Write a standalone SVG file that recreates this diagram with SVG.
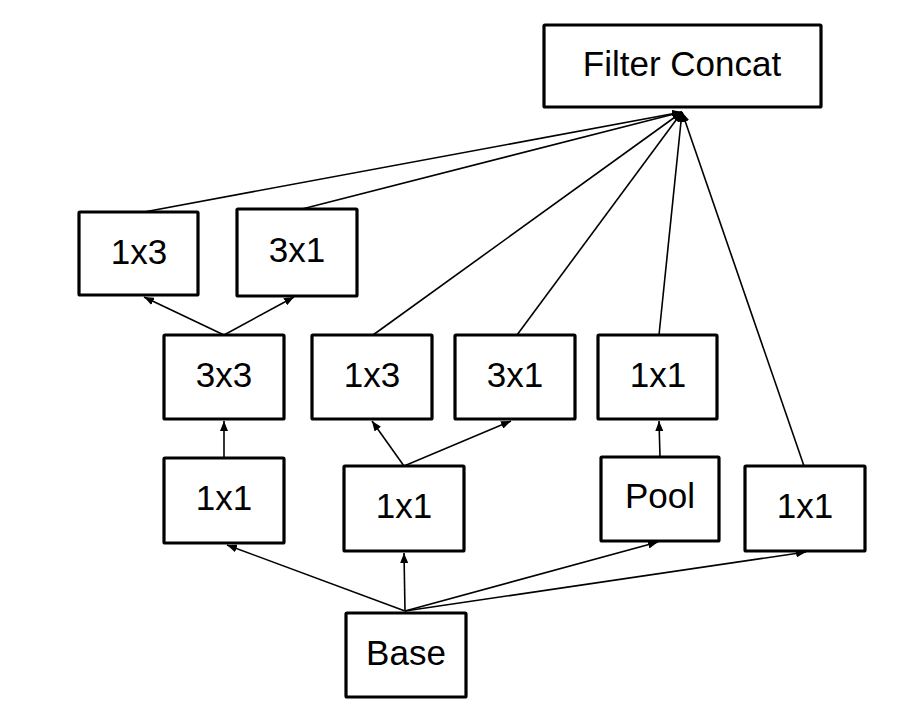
<svg xmlns="http://www.w3.org/2000/svg" width="900" height="710" viewBox="0 0 900 710">
<defs>
<marker id="ah" viewBox="0 0 10 8" refX="10" refY="4" markerWidth="10" markerHeight="8" markerUnits="userSpaceOnUse" orient="auto">
<path d="M0,0 L10,4 L0,8 Z" fill="#000"/>
</marker>
</defs>
<style>
.box{fill:#fff;stroke:#000;stroke-width:3.2}
.lbl{font-family:"Liberation Sans",Arial,sans-serif;font-size:35px;fill:#000;text-anchor:middle}
.c line{stroke:#000;stroke-width:1.6;marker-end:url(#ah)}
</style>
<rect width="900" height="710" fill="#fff"/>
<g class="c" id="connectors">
<line x1="405" y1="611" x2="227" y2="545"/>
<line x1="405" y1="611" x2="404" y2="553"/>
<line x1="405" y1="611" x2="658" y2="542"/>
<line x1="405" y1="611" x2="806" y2="552"/>
<line x1="224" y1="458" x2="224" y2="421"/>
<line x1="224" y1="335" x2="144" y2="297"/>
<line x1="224" y1="335" x2="294" y2="297"/>
<line x1="404" y1="466" x2="372" y2="421"/>
<line x1="404" y1="466" x2="511" y2="421"/>
<line x1="660" y1="457" x2="659" y2="421"/>
<line x1="144" y1="212" x2="682" y2="112"/>
<line x1="302" y1="209" x2="682" y2="112"/>
<line x1="373" y1="335" x2="682" y2="112"/>
<line x1="517" y1="335" x2="682" y2="112"/>
<line x1="659" y1="335" x2="682" y2="112"/>
<line x1="804" y1="466" x2="682" y2="112"/>
</g>
<g id="concat"><rect class="box" x="544" y="25" width="277" height="82" rx="1"/><text class="lbl" x="682" y="76">Filter Concat</text></g>
<g id="n1x3a"><rect class="box" x="79" y="212" width="119" height="83" rx="1"/><text class="lbl" x="139" y="264">1x3</text></g>
<g id="n3x1a"><rect class="box" x="237" y="209" width="120" height="87" rx="1"/><text class="lbl" x="297" y="262">3x1</text></g>
<g id="n3x3"><rect class="box" x="164" y="335" width="120" height="84" rx="1"/><text class="lbl" x="224" y="387">3x3</text></g>
<g id="n1x3b"><rect class="box" x="312" y="335" width="120" height="84" rx="1"/><text class="lbl" x="372" y="387">1x3</text></g>
<g id="n3x1b"><rect class="box" x="455" y="335" width="120" height="84" rx="1"/><text class="lbl" x="515" y="387">3x1</text></g>
<g id="n1x1c"><rect class="box" x="598" y="335" width="119" height="84" rx="1"/><text class="lbl" x="658" y="387">1x1</text></g>
<g id="n1x1a"><rect class="box" x="164" y="458" width="120" height="85" rx="1"/><text class="lbl" x="224" y="510">1x1</text></g>
<g id="n1x1b"><rect class="box" x="344" y="466" width="120" height="85" rx="1"/><text class="lbl" x="404" y="518">1x1</text></g>
<g id="pool"><rect class="box" x="601" y="457" width="118" height="84" rx="1"/><text class="lbl" x="660" y="508">Pool</text></g>
<g id="n1x1d"><rect class="box" x="745" y="466" width="120" height="85" rx="1"/><text class="lbl" x="805" y="518">1x1</text></g>
<g id="base"><rect class="box" x="346" y="613" width="120" height="84" rx="1"/><text class="lbl" x="406" y="665">Base</text></g>
</svg>
